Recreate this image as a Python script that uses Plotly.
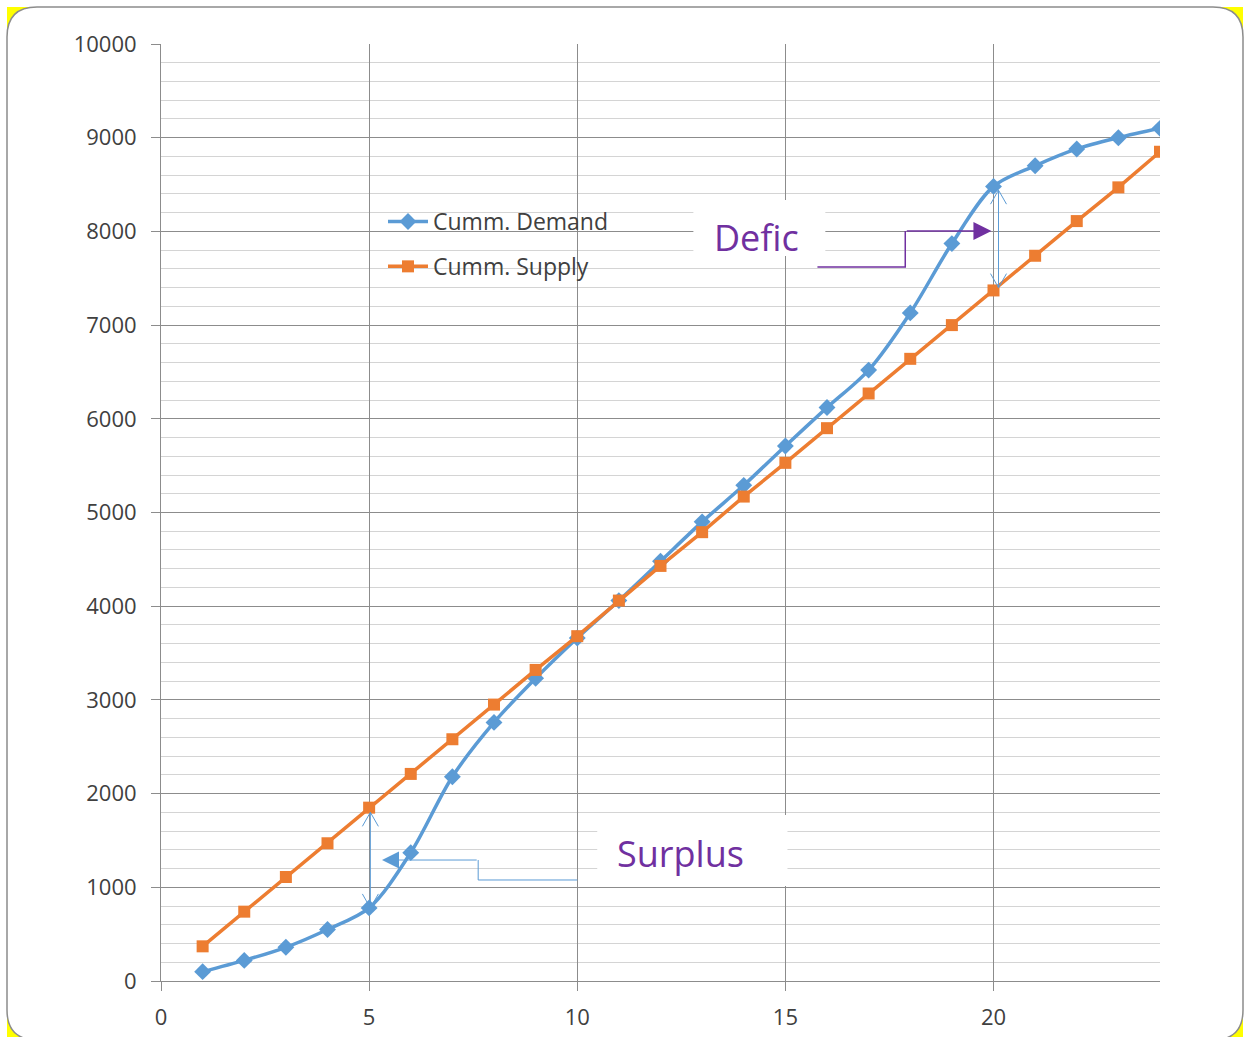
import plotly.graph_objects as go

# Time periods and cumulative quantities
periods = list(range(1, 25))
cumm_demand = [100, 220, 360, 550, 780, 1370, 2180, 2760, 3230, 3660, 4060, 4480,
               4900, 5290, 5710, 6120, 6520, 7130, 7870, 8480, 8700, 8880, 9000, 9100]
cumm_supply = [370, 740, 1110, 1470, 1850, 2210, 2580, 2950, 3320, 3680, 4060, 4430,
               4790, 5170, 5530, 5900, 6270, 6640, 7000, 7370, 7740, 8110, 8470, 8850]
x_ticks = [0, 5, 10, 15, 20]
y_ticks = list(range(0, 10001, 1000))
y_tick_text = [str(v) for v in y_ticks]

BLUE = "#5B9BD5"
ORANGE = "#ED7D31"
PURPLE = "#7030A0"
TEXT = "#404040"
FONT = "Open Sans"

W, H = 1244, 1037
L, R, T, B = 161, 84, 44, 56
PW, PH = W - L - R, H - T - B


def px(xp):
    return (xp - L) / PW


def py(yp):
    return (H - B - yp) / PH


fig = go.Figure()

fig.add_trace(go.Scatter(
    x=periods, y=cumm_demand, name="Cumm. Demand", mode="lines+markers",
    line=dict(color=BLUE, width=3.5, shape="spline", smoothing=0.9),
    marker=dict(symbol="diamond", size=13, color=BLUE),
    legendgroup="d",
))
fig.add_trace(go.Scatter(
    x=periods, y=cumm_supply, name="Cumm. Supply", mode="lines+markers",
    line=dict(color=ORANGE, width=3.5),
    marker=dict(symbol="square", size=12, color=ORANGE),
    legendgroup="s",
))

shapes = []
# Frame: yellow corners behind a white rounded panel
x0, y0, x1, y1 = px(7), py(7), px(1243), py(1040)
shapes.append(dict(type="rect", xref="paper", yref="paper", x0=x0, y0=y1, x1=x1, y1=y0,
                   fillcolor="#FFFF00", line=dict(width=0), layer="below"))
rx, ry = 30 / PW, 30 / PH
path = (f"M{x0 + rx},{y0} L{x1 - rx},{y0} Q{x1},{y0} {x1},{y0 - ry} "
        f"L{x1},{y1 + ry} Q{x1},{y1} {x1 - rx},{y1} "
        f"L{x0 + rx},{y1} Q{x0},{y1} {x0},{y1 + ry} "
        f"L{x0},{y0 - ry} Q{x0},{y0} {x0 + rx},{y0} Z")
shapes.append(dict(type="path", xref="paper", yref="paper", path=path,
                   fillcolor="white", line=dict(color="#8C8C8C", width=1.5), layer="below"))

# White label boxes over the grid
shapes.append(dict(type="rect", xref="x", yref="y", x0=12.79, x1=15.96, y0=7737, y1=8335,
                   fillcolor="white", line=dict(width=0), layer="between"))
shapes.append(dict(type="rect", xref="x", yref="y", x0=10.48, x1=15.05, y0=1014, y1=1772,
                   fillcolor="white", line=dict(width=0), layer="between"))

# Elbow connectors leading to the labelled gaps
shapes.append(dict(type="path", xref="x", yref="y",
                   path="M15.77,7620 L17.88,7620 L17.88,8004",
                   line=dict(color=PURPLE, width=1.5), layer="above"))
shapes.append(dict(type="path", xref="x", yref="y",
                   path="M10.0,1078 L7.62,1078 L7.62,1291",
                   line=dict(color=BLUE, width=1), layer="above"))

# Double-headed gap arrows (thin shaft, open V heads)
gap_arrows = [(5.03, 780, 1800), (20.12, 7400, 8440)]
for gx, lo, hi in gap_arrows:
    shapes.append(dict(type="line", xref="x", yref="y", x0=gx, x1=gx, y0=lo, y1=hi,
                       line=dict(color=BLUE, width=1), layer="above"))
    shapes.append(dict(type="path", xref="x", yref="y", xsizemode="pixel",
                       ysizemode="pixel", xanchor=gx, yanchor=hi,
                       path="M-8,-14 L0,0 L8,-14",
                       line=dict(color=BLUE, width=1), layer="above"))
    shapes.append(dict(type="path", xref="x", yref="y", xsizemode="pixel",
                       ysizemode="pixel", xanchor=gx, yanchor=lo,
                       path="M-8,14 L0,0 L8,14",
                       line=dict(color=BLUE, width=1), layer="above"))
fig.update_layout(shapes=shapes)

annotations = [
    # connector arrowheads
    dict(x=19.95, y=8004, ax=17.88, ay=8004, xref="x", yref="y", axref="x", ayref="y",
         text="", showarrow=True, arrowhead=2, arrowsize=2.4, arrowwidth=1.5,
         arrowcolor=PURPLE),
    dict(x=5.31, y=1291, ax=7.62, ay=1291, xref="x", yref="y", axref="x", ayref="y",
         text="", showarrow=True, arrowhead=2, arrowsize=3.4, arrowwidth=1,
         arrowcolor=BLUE),
    # labels
    dict(x=14.30, y=7930, xref="x", yref="y", text="Defic", showarrow=False,
         font=dict(family=FONT, size=36, color=PURPLE)),
    dict(x=12.48, y=1366, xref="x", yref="y", text="Surplus", showarrow=False,
         font=dict(family=FONT, size=36, color=PURPLE)),
]
fig.update_layout(annotations=annotations)

fig.update_layout(
    width=W, height=H,
    margin=dict(l=L, r=R, t=T, b=B, pad=0),
    paper_bgcolor="white",
    plot_bgcolor="rgba(0,0,0,0)",
    font=dict(family=FONT, size=22, color=TEXT),
    showlegend=True,
    legend=dict(x=px(383), y=py(200), xanchor="left", yanchor="top",
                bgcolor="rgba(0,0,0,0)", font=dict(family=FONT, size=23, color=TEXT),
                tracegroupgap=12, itemwidth=40),
    xaxis=dict(range=[0, 24], tickvals=x_ticks, showgrid=True, gridcolor="#8C8C8C",
               gridwidth=1, zeroline=False, showline=True, linecolor="#8C8C8C",
               ticks="outside", ticklen=9, tickcolor="#8C8C8C", ticklabelstandoff=8,
               automargin=False,
               tickfont=dict(family=FONT, size=22, color=TEXT)),
    yaxis=dict(range=[0, 10000], tickvals=y_ticks, ticktext=y_tick_text, showgrid=True,
               gridcolor="#8C8C8C", gridwidth=1, zeroline=False, showline=True,
               linecolor="#8C8C8C", ticks="outside", ticklen=9, tickcolor="#8C8C8C",
               ticklabelstandoff=10, automargin=False,
               tickfont=dict(family=FONT, size=22, color=TEXT),
               minor=dict(dtick=200, showgrid=True, gridcolor="#D4D4D4", gridwidth=1)),
)

fig.write_html("out.html")
